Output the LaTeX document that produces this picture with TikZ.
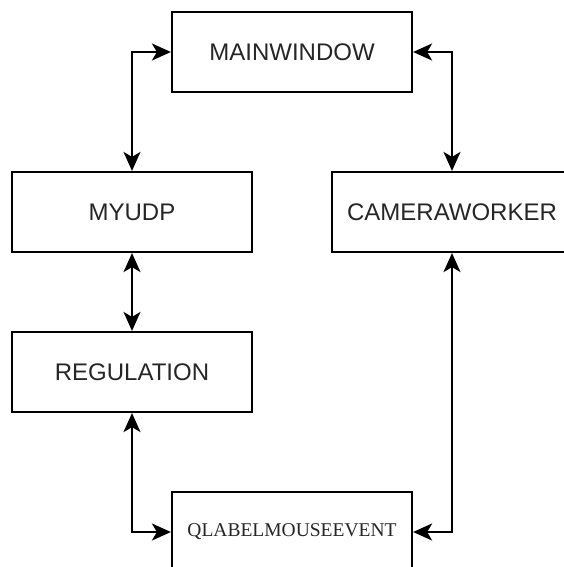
\documentclass[tikz,border=0pt]{standalone}
\usepackage{fontspec}
\setmainfont{Liberation Sans}
\newfontfamily\serifq{Liberation Serif}
\usetikzlibrary{arrows.meta}
\begin{document}
\begin{tikzpicture}[x=1pt,y=-1pt,
  box/.style={draw=black,line width=2.2pt,minimum width=240pt,minimum height=80pt,inner sep=0pt,font=\fontsize{24}{27}\selectfont,text=black!85},
  tip/.tip={Stealth[length=19pt,width=17pt,inset=5pt]},
  link/.style={line width=2.2pt,tip-tip}]
\useasboundingbox[fill=white] (0,0) rectangle (563,567);
\node[box] (main) at (292,52) {MAINWINDOW};
\node[box] (udp) at (132,212) {MYUDP};
\node[box] (cam) at (452,212) {CAMERAWORKER};
\node[box] (reg) at (132,372) {REGULATION};
\node[box,font=\serifq\fontsize{19.5}{22}\selectfont] (qlm) at (292,532) {QLABELMOUSEEVENT};
\draw[link] (udp.north) |- (main.west);
\draw[link] (main.east) -| (cam.north);
\draw[link] (udp.south) -- (reg.north);
\draw[link] (reg.south) |- (qlm.west);
\draw[link] (cam.south) |- (qlm.east);
\end{tikzpicture}
\end{document}
